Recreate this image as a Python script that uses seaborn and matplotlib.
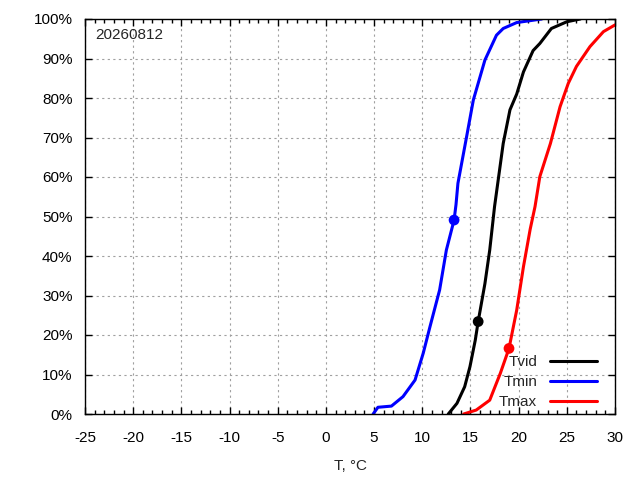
import pandas as pd
import matplotlib
matplotlib.use("Agg")
import matplotlib.pyplot as plt
from matplotlib.ticker import MultipleLocator, PercentFormatter
import seaborn as sns

# Curves (temperature, cumulative share in %)
tvid_t = [12.7, 13.6, 14.4, 14.95, 15.5, 15.8, 16.5, 17.0, 17.5, 18.4, 19.1, 19.8,
          20.5, 21.5, 22.2, 23.4, 25.0, 26.4]
tvid_p = [0, 2.7, 6.9, 12.0, 18.7, 23.4, 33.0, 41.5, 52.5, 68.5, 77.0, 81.0,
          86.6, 92.0, 93.8, 97.6, 99.3, 100]

tmin_t = [4.9, 5.4, 6.8, 8.0, 9.25, 10.1, 10.8, 11.8, 12.5, 13.3, 13.5, 13.7,
          14.6, 15.3, 16.5, 17.7, 18.4, 19.8, 22.4]
tmin_p = [0, 1.7, 2.0, 4.4, 8.6, 15.4, 22.1, 31.4, 41.5, 49.1, 53.0, 58.4,
          70.2, 79.5, 89.6, 95.9, 97.6, 99.1, 100]

tmax_t = [14.3, 15.6, 17.0, 18.1, 19.0, 19.8, 20.5, 21.2, 21.7, 22.2, 23.3,
          24.3, 25.15, 26.0, 27.4, 28.8, 30.0]
tmax_p = [0, 1.0, 3.5, 10.3, 16.6, 26.3, 37.3, 46.8, 52.5, 60.1, 68.5,
          77.8, 83.7, 88.0, 93.0, 96.8, 98.5]

# Today's values (marked points)
dot_names = ["Tvid", "Tmin", "Tmax"]
dot_t = [15.8, 13.3, 19.0]
dot_p = [23.4, 49.1, 16.6]

colors = {"Tvid": "black", "Tmin": "#0000ff", "Tmax": "#ff0000"}

frames = []
for name, t, p in [("Tvid", tvid_t, tvid_p), ("Tmin", tmin_t, tmin_p), ("Tmax", tmax_t, tmax_p)]:
    frames.append(pd.DataFrame({"T": t, "P": p, "series": name}))
df = pd.concat(frames, ignore_index=True)
dots = pd.DataFrame({"T": dot_t, "P": dot_p, "series": dot_names})

sns.set_style("ticks")
plt.rcParams["font.family"] = ["Liberation Sans", "DejaVu Sans"]
plt.rcParams["font.size"] = 11
plt.rcParams["axes.unicode_minus"] = False

fig = plt.figure(figsize=(6.4, 4.8), dpi=100)
ax = fig.add_axes([85 / 640, 66 / 480, 530 / 640, 395 / 480])

sns.lineplot(data=df, x="T", y="P", hue="series", palette=colors, sort=False,
             estimator=None, linewidth=2.2, ax=ax)
sns.scatterplot(data=dots, x="T", y="P", hue="series", palette=colors, s=60,
                edgecolor="none", legend=False, ax=ax, zorder=5)

ax.set_xlim(-25, 30)
ax.set_ylim(0, 100)
ax.xaxis.set_major_locator(MultipleLocator(5))
ax.xaxis.set_minor_locator(MultipleLocator(1))
ax.yaxis.set_major_locator(MultipleLocator(10))
ax.yaxis.set_major_formatter(PercentFormatter(decimals=0))
ax.tick_params(which="both", direction="in", top=True, right=True, labelsize=11,
               colors="black")
ax.tick_params(axis="x", which="major", pad=12)
ax.tick_params(axis="y", which="major", pad=9)
ax.tick_params(which="major", length=5, width=1)
ax.tick_params(which="minor", length=3, width=1)
for s in ax.spines.values():
    s.set_linewidth(1)
    s.set_color("black")
ax.grid(True, which="major", color="#a0a0a0", linestyle=(0, (2, 3)), linewidth=0.8)
ax.set_axisbelow(True)

ax.set_xlabel("T, °C", fontsize=11, labelpad=10)
ax.set_ylabel("")
ax.text(0.02, 0.959, "20260812", transform=ax.transAxes, fontsize=11, va="center", ha="left")

handles, labels = ax.get_legend_handles_labels()
ax.legend(handles, labels, loc="lower right", bbox_to_anchor=(0.966, 0.012),
          frameon=False, markerfirst=False, fontsize=11, handlelength=3.07,
          handletextpad=0.85, labelspacing=0.4, borderpad=0, borderaxespad=0)

fig.savefig("out.png", dpi=100)
